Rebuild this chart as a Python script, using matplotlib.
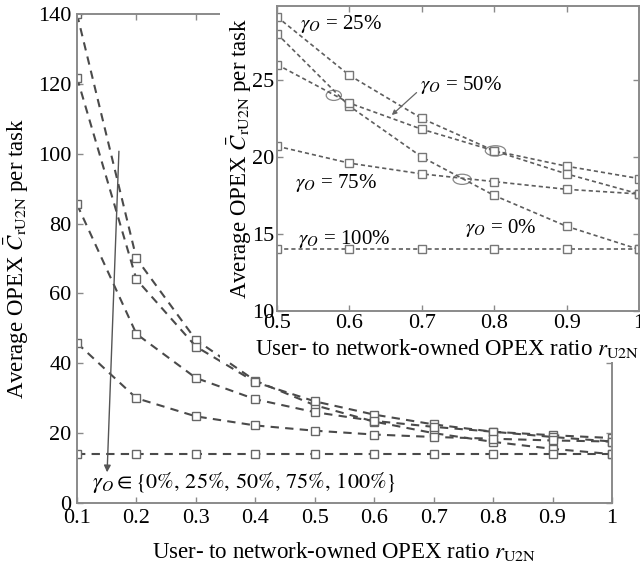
import matplotlib
matplotlib.use("Agg")
import matplotlib.pyplot as plt
from matplotlib.patches import Ellipse, Rectangle

plt.rcParams['font.family'] = ['Liberation Serif', 'DejaVu Serif']
plt.rcParams['mathtext.fontset'] = 'stix'

# cost ratio and average cost per task for each share gamma_O
r_u2n = [0.1, 0.2, 0.3, 0.4, 0.5, 0.6, 0.7, 0.8, 0.9, 1.0]
cost_0 = [140, 70, 46.7, 35, 28, 23.3, 20, 17.5, 15.5, 14]
cost_25 = [121.8, 64, 44.8, 34.6, 29.1, 25.3, 22.5, 20.4, 19.4, 18.6]
cost_50 = [85.5, 48.4, 35.8, 29.7, 26.0, 23.5, 21.8, 20.4, 18.9, 17.6]
cost_75 = [45.8, 30.0, 24.8, 22.2, 20.7, 19.6, 18.9, 18.4, 17.9, 17.6]
cost_100 = [14, 14, 14, 14, 14, 14, 14, 14, 14, 14]
series = [cost_0, cost_25, cost_50, cost_75, cost_100]

gray = '#8a8a8a'
ylab = r'Average OPEX $\bar{C}_{\mathrm{rU2N}}$ per task'
xlab = r'User- to network-owned OPEX ratio $r_{\mathrm{U2N}}$'
FS = 16

fig = plt.figure(figsize=(6.4, 5.71), dpi=100)

def style(ax):
    for s in ax.spines.values():
        s.set_color(gray)
        s.set_linewidth(1.4)
    ax.tick_params(direction='in', top=True, right=True, color=gray,
                   labelsize=FS, length=4, width=1)

# main axes
ax = fig.add_axes([0.1203, 0.1191, 0.8359, 0.8564])
for c in series:
    ax.plot(r_u2n, c, color='#4a4a4a', lw=1.5, dashes=(4, 3),
            marker='s', ms=6, mfc='white', mec='#666666', mew=1)
ax.set_xlim(0.1, 1.0)
ax.set_ylim(0, 140)
ax.set_xticks([0.1, 0.2, 0.3, 0.4, 0.5, 0.6, 0.7, 0.8, 0.9, 1])
ax.set_xticklabels(['0.1', '0.2', '0.3', '0.4', '0.5', '0.6', '0.7', '0.8', '0.9', '1'])
ax.set_yticks([0, 20, 40, 60, 80, 100, 120, 140])
style(ax)
ax.tick_params(pad=4)
ax.set_xlabel(xlab, fontsize=16.5)
ax.set_ylabel(ylab, fontsize=16.5)
ax.xaxis.set_label_coords(0.5, (503 - 551) / 488)
ax.xaxis.label.set_va('center')
ax.yaxis.set_label_coords((17 - 77) / 535, 0.5)
ax.yaxis.label.set_va('center')
ax.annotate('', xy=(0.1505, 8), xytext=(0.1707, 101.5),
            arrowprops=dict(arrowstyle='-|>', color='#555555', lw=1,
                            mutation_scale=10))
ax.text(0.126, 6, r'$\gamma_O \in \{0\%,\,25\%,\,50\%,\,75\%,\,100\%\}$',
        fontsize=FS, va='center', ha='left')

# white backing behind the inset and its labels
fig.patches.append(Rectangle((220 / 640, 1 - 362 / 571), 1, 1,
                             transform=fig.transFigure, facecolor='white',
                             edgecolor='none', zorder=2))

# inset zoom on r in [0.5, 1]
ins = fig.add_axes([0.4328, 0.4553, 0.5657, 0.5342], zorder=3)
for c in series:
    ins.plot(r_u2n[4:], c[4:], color='#5e5e5e', lw=1.2, dashes=(2.5, 1.8),
             marker='s', ms=5.5, mfc='white', mec='#777777', mew=1)
ins.set_xlim(0.5, 1.0)
ins.set_ylim(10, 29.8)
ins.set_xticks([0.5, 0.6, 0.7, 0.8, 0.9, 1])
ins.set_xticklabels(['0.5', '0.6', '0.7', '0.8', '0.9', '1'])
ins.set_yticks([10, 15, 20, 25])
style(ins)
ins.tick_params(pad=2)
ins.set_xlabel(xlab, fontsize=16.5)
ins.set_ylabel(ylab, fontsize=16.5)
ins.xaxis.set_label_coords((448 - 277) / 363, (311 - 348) / 305)
ins.xaxis.label.set_va('center')
ins.yaxis.set_label_coords((240 - 277) / 363, 0.5)
ins.yaxis.label.set_va('center')

ins.text(0.532, 28.6, r'$\gamma_O$ = 25%', fontsize=15, va='center')
ins.text(0.697, 24.7, r'$\gamma_O$ = 50%', fontsize=15, va='center')
ins.text(0.525, 18.3, r'$\gamma_O$ = 75%', fontsize=15, va='center')
ins.text(0.759, 15.4, r'$\gamma_O$ = 0%', fontsize=15, va='center')
ins.text(0.529, 14.7, r'$\gamma_O$ = 100%', fontsize=15, va='center')
ins.annotate('', xy=(0.6557, 22.6), xytext=(0.6956, 24.3),
             arrowprops=dict(arrowstyle='-|>', color='#666666', lw=0.9,
                             mutation_scale=7))
for (ex, ey, ew) in [(0.5785, 24.0, 0.021), (0.8017, 20.4, 0.028), (0.7557, 18.55, 0.025)]:
    ins.add_patch(Ellipse((ex, ey), ew, 0.66, fill=False, edgecolor='#888888', lw=0.9))

fig.savefig('out.png', dpi=100)
